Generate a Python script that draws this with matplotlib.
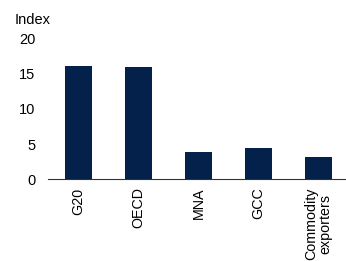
#!/usr/bin/env python3

import matplotlib
matplotlib.use('Agg')
import matplotlib.pyplot as plt

# Values
groups= ['G20', 'OECD', 'MNA', 'GCC', 'Commodity\nexporters']
index_vals= [16.1, 16.0, 3.8, 4.5, 3.2]
y_ticks= [0, 5, 10, 15, 20]

plt.rcParams['font.family']= ['Liberation Sans', 'DejaVu Sans']

fig= plt.figure(figsize=(3.46, 2.61), dpi=100)
ax= fig.add_axes([0.140, 0.314, 0.867, 0.537])

pos= range(len(groups))
ax.bar(pos, index_vals, width=0.45, color='#03214a')

ax.set_xlim(-0.5, len(groups) - 0.5)
ax.set_ylim(0, 20)
ax.set_yticks(y_ticks)
ax.tick_params(axis='y', length=0, labelsize=10.5, pad=9.5)
ax.set_xticks(list(pos))
ax.set_xticklabels(groups, rotation=90, fontsize=10.3, va='top',
                   ha='center', multialignment='center', linespacing=0.95)
ax.tick_params(axis='x', length=0, pad=6)

for side in ('top', 'right', 'left'):
    ax.spines[side].set_visible(False)
ax.spines['bottom'].set_color('#333333')
ax.spines['bottom'].set_linewidth(0.8)

fig.text(15/346, 1 - 20/261, 'Index', fontsize=10.5, ha='left', va='center')

fig.savefig('out.png', dpi=100)
